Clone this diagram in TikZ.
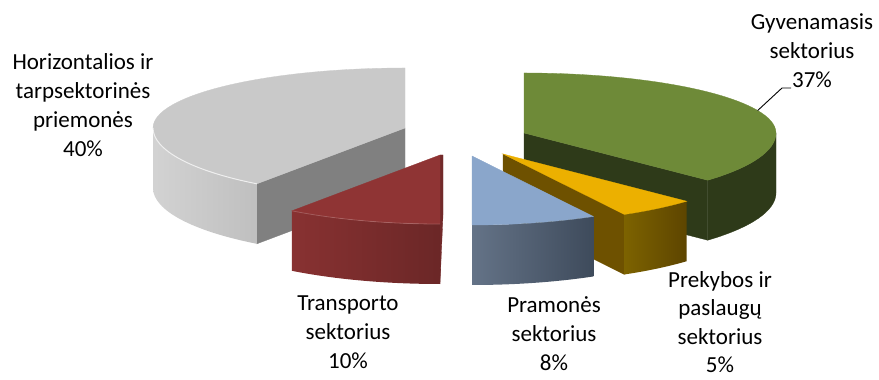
\documentclass[tikz,border=0pt]{standalone}
\usepackage{fontspec}
\setmainfont{Carlito}
\definecolor{grtop}{HTML}{C9C9C9}
\definecolor{grcut}{HTML}{808080}
\definecolor{vtop}{HTML}{6E8A38}
\definecolor{vside}{HTML}{2E3A19}
\definecolor{ytop}{HTML}{ECB000}
\definecolor{ycut}{HTML}{6E5100}
\definecolor{btop}{HTML}{8AA6CB}
\definecolor{rtop}{HTML}{8F3434}
\tikzset{
  rimf/.style={x radius=252pt,y radius=69pt},
  rimb/.style={x radius=252pt,y radius=60pt},
  slab/.style={fill=#1,draw=#1,line width=0.3pt},
  lbl/.style={align=center,inner sep=0pt,anchor=north,font=\fontsize{23}{29}\selectfont}
}

\begin{document}
\begin{tikzpicture}[x=1pt,y=1pt]
        \useasboundingbox (0,0) rectangle (879,380);
        \coordinate (gapex) at (405,252);
        \coordinate (vapex) at (524,247);
        \coordinate (yapex) at (503,226);
        \coordinate (bapex) at (472,224);
        \coordinate (rapex) at (440,225);

        \path (gapex) ++(-126:252pt and 69pt) coordinate (g1);
        \fill[slab=grcut] (gapex) -- (g1) -- ++(0,-60) -- ([yshift=-60pt]gapex) -- cycle;
        \shade[left color=gray!35,right color=gray!50] (g1) arc[rimf,start angle=-126,end angle=-180] -- ++(0,-60) arc[rimf,start angle=-180,end angle=-126] -- cycle;
        \fill[slab=grtop] (gapex) -- (g1) arc[rimf,start angle=-126,end angle=-180] arc[rimb,start angle=180,end angle=90] -- cycle;
        \draw[white,line width=1pt,opacity=0.7] (g1) arc[rimf,start angle=-126,end angle=-180];

        \path (vapex) ++(-43.2:252pt and 69pt) coordinate (v1);
        \path (vapex) ++(0:252pt and 69pt) coordinate (v0);
        \fill[slab=vside] (vapex) -- (v1) -- ++(0,-60) -- ([yshift=-60pt]vapex) -- cycle;
        \fill[slab=vside] (v0) arc[rimf,start angle=0,end angle=-43.2] -- ++(0,-60) arc[rimf,start angle=-43.2,end angle=0] -- cycle;
        \fill[slab=vtop] (vapex) -- ++(0,60) arc[rimb,start angle=90,end angle=0] arc[rimf,start angle=0,end angle=-43.2] -- cycle;

        \path (yapex) ++(-43.2:252pt and 69pt) coordinate (y1);
        \path (yapex) ++(-61.2:252pt and 69pt) coordinate (y2);
        \fill[slab=ycut] (yapex) -- (y2) -- ++(0,-60) -- ([yshift=-60pt]yapex) -- cycle;
        \shade[left color=ycut!90!yellow,right color=ycut!85!black] (y1) arc[rimf,start angle=-43.2,end angle=-61.2] -- ++(0,-60) arc[rimf,start angle=-61.2,end angle=-43.2] -- cycle;
        \fill[slab=ytop] (yapex) -- (y1) arc[rimf,start angle=-43.2,end angle=-61.2] -- cycle;

        \path (bapex) ++(-61.2:252pt and 69pt) coordinate (b1);
        \shade[left color=btop!60!black!90,right color=btop!45!black] (b1) arc[rimf,start angle=-61.2,end angle=-90] -- ++(0,-60) arc[rimf,start angle=-90,end angle=-61.2] -- cycle;
        \fill[slab=btop] (bapex) -- (b1) arc[rimf,start angle=-61.2,end angle=-90] -- cycle;

        \path (rapex) ++(-90:252pt and 69pt) coordinate (r1);
        \shade[left color=rtop!95!black,right color=rtop!75!black] (r1) arc[rimf,start angle=-90,end angle=-126] -- ++(0,-60) arc[rimf,start angle=-126,end angle=-90] -- cycle;
        \fill[slab=rtop!80!black] (rapex) -- (r1) -- ++(0,-60) -- ([shift={(3pt,-60pt)}]rapex) -- ([xshift=3pt]rapex) -- cycle;
        \fill[slab=rtop] (rapex) -- (r1) arc[rimf,start angle=-90,end angle=-126] -- cycle;
        \draw[rtop!70!white,line width=0.8pt,opacity=0.6] (r1) arc[rimf,start angle=-90,end angle=-126];

        \path (vapex) ++(22:252pt and 60pt) coordinate (vl);
        \coordinate (k1) at (782,292);
        \coordinate (k2) at (791,292);
        \draw[line width=0.9pt] (vl) -- (k1) -- (k2);

        \node[lbl] (horiz) at (83,327) {Horizontalios ir\\tarpsektorinės\\priemonės\\40\%};
        \node[lbl] (gyven) at (812,367) {Gyvenamasis\\sektorius\\37\%};
        \node[lbl] (transp) at (348,84) {Transporto\\sektorius\\10\%};
        \node[lbl] (pramon) at (554,84) {Pramonės\\sektorius\\8\%};
        \node[lbl,font=\fontsize{23}{28.5}\selectfont] (prekyb) at (720,109) {Prekybos ir\\paslaugų\\sektorius\\5\%};
\end{tikzpicture}
\end{document}
